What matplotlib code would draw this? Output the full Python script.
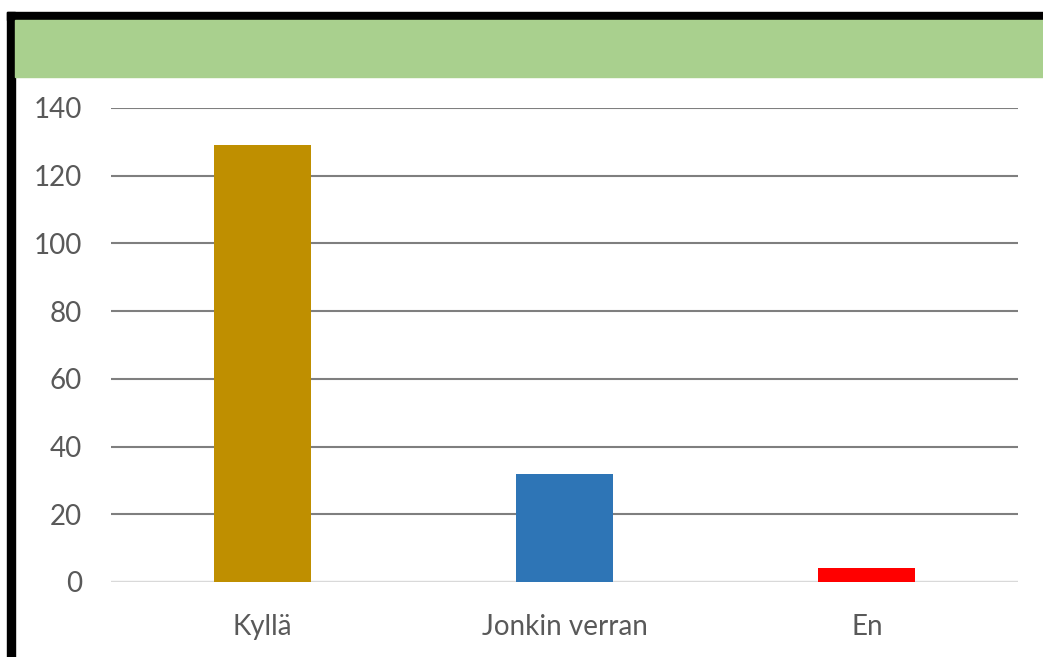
# Bar chart of answers: Kyllä / Jonkin verran / En
import matplotlib
matplotlib.use("Agg")
import matplotlib.pyplot as plt
from matplotlib.patches import Rectangle

plt.rcParams['font.family'] = ['Lato', 'DejaVu Sans']

categories = ["Kyllä", "Jonkin verran", "En"]
counts = [129, 32, 4]
bar_colors = ["#BF8F00", "#2E75B6", "#FF0000"]
y_ticks = [0, 20, 40, 60, 80, 100, 120, 140]

W, H = 1043, 657
fig = plt.figure(figsize=(W / 100, H / 100), dpi=100)

# frame: black top and left edges, green header band
fig.patches.append(Rectangle((7 / W, 1 - 20 / H), 1 - 7 / W, 8 / H,
                             transform=fig.transFigure, color="black", zorder=0))
fig.patches.append(Rectangle((7 / W, 0), 8 / W, 1 - 12 / H,
                             transform=fig.transFigure, color="black", zorder=0))
fig.patches.append(Rectangle((15 / W, 1 - 77 / H), 1 - 15 / W, 57 / H,
                             transform=fig.transFigure, color="#A9D08E", zorder=0))

ax = fig.add_axes([111 / W, 1 - 582 / H, (1018 - 111) / W, (582 - 108) / H])
x = range(len(categories))
ax.bar(x, counts, width=0.32, color=bar_colors, zorder=3)

ax.set_xlim(-0.5, len(categories) - 0.5)
ax.set_ylim(0, 140)
ax.set_yticks(y_ticks)
ax.set_xticks(list(x))
ax.set_xticklabels(categories)

ax.yaxis.grid(True, color="#7f7f7f", linewidth=1.5, zorder=0)
ax.set_axisbelow(True)
for s in ax.spines.values():
    s.set_visible(False)
ax.axhline(0, color="#d9d9d9", linewidth=1.5, zorder=2)

ax.tick_params(axis="y", length=0, pad=21, labelsize=20, labelcolor="#595959")
ax.tick_params(axis="x", length=0, pad=23, labelsize=20, labelcolor="#595959")

fig.savefig("out.png", dpi=100)
